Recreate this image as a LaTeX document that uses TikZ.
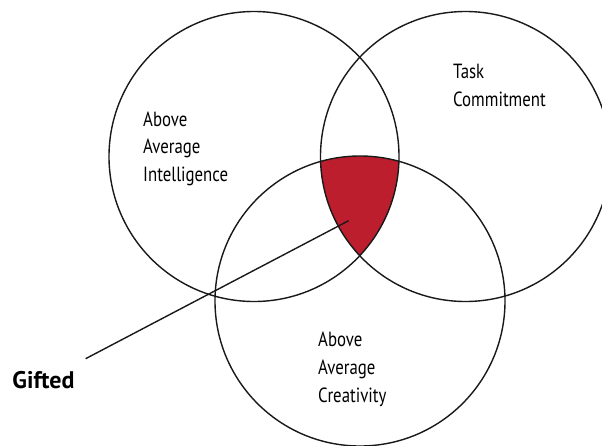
\documentclass[tikz,border=0pt]{standalone}
\usepackage{fontspec}
\setmainfont{PT Sans}
\newfontfamily\condfont[FakeStretch=0.82]{PT Sans}
\usepackage{xcolor}
\usetikzlibrary{positioning}
\definecolor{giftedred}{RGB}{188,30,45}

\begin{document}
\begin{tikzpicture}[x=1pt, y=-1pt,
traitcircle/.style={circle, draw=black!90, line width=1.4pt, minimum size=290pt, inner sep=0pt},
traitlabel/.style={anchor=base west, align=left, inner sep=0pt, font=\condfont\fontsize{20.5}{27.8}\selectfont},
giftedlabel/.style={anchor=base west, inner xsep=11pt, inner ysep=12pt, font=\bfseries\fontsize{24}{28}\selectfont},
]
\useasboundingbox (0,0) rectangle (602,445);

%Core of the three circles
\begin{scope}
\clip (254,156.5) circle[radius=145pt];
\clip (465.5,156.5) circle[radius=145pt];
\fill[giftedred] (360,301) circle[radius=145pt];
\end{scope}

%Nodes
\node[traitcircle]		(intel)		at (254,156.5)		{};
\node[traitcircle]		(task)		at (465.5,156.5)	{};
\node[traitcircle]		(creat)		at (360,301)		{};
\node[traitlabel]		(intellbl)	at (143,181.7)		{Above\\Average\\Intelligence};
\node[traitlabel]		(tasklbl)	at (453,106.7)		{Task\\Commitment};
\node[traitlabel]		(creatlbl)	at (318,402)		{Above\\Average\\Creativity};
\node[giftedlabel]		(gifted)	at (1.3,388)		{Gifted};
\coordinate				(core)		at (348.6,220.7);

%Lines
\draw[line width=1.4pt, black!90] (gifted.north east) -- (core);
\end{tikzpicture}
\end{document}
